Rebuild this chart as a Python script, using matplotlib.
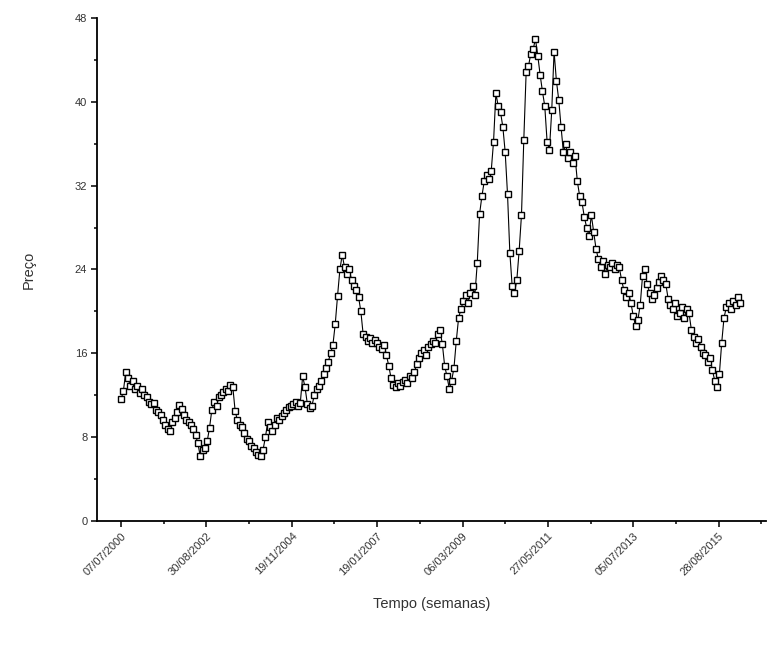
import numpy as np
import matplotlib.pyplot as plt
from matplotlib.ticker import MultipleLocator, FixedLocator

plt.rcParams['font.family'] = ['Liberation Sans', 'DejaVu Sans']

# weekly price, one reading every 3 weeks
step = 3
preco = [
    11.6, 12.4, 14.2, 13.6, 12.9, 13.4, 12.6, 12.9, 12.2, 12.6,
    12.0, 11.8, 11.4, 11.2, 11.3, 10.6, 10.4, 10.1, 9.6, 9.2,
    8.8, 8.6, 9.4, 9.8, 10.4, 11.1, 10.7, 10.1, 9.6, 9.4,
    9.2, 8.8, 8.2, 7.4, 6.2, 6.8, 7.0, 7.6, 8.9, 10.6,
    11.4, 11.0, 11.8, 12.0, 12.3, 12.6, 12.4, 13.0, 12.8, 10.5,
    9.6, 9.2, 9.0, 8.4, 7.8, 7.6, 7.2, 7.0, 6.6, 6.3,
    6.2, 6.8, 8.0, 9.4, 9.0, 8.6, 9.2, 9.8, 9.6, 10.0,
    10.3, 10.6, 10.9, 11.0, 11.2, 11.4, 11.0, 11.3, 13.8, 12.8,
    11.2, 10.8, 11.0, 12.0, 12.6, 12.9, 13.4, 14.0, 14.6, 15.2,
    16.0, 16.8, 18.8, 21.5, 24.0, 25.4, 24.2, 23.6, 24.0, 23.0,
    22.4, 22.0, 21.4, 20.0, 17.8, 17.6, 17.2, 17.5, 17.0, 17.3,
    17.0, 16.6, 16.4, 16.8, 15.8, 14.8, 13.6, 13.0, 12.8, 13.2,
    12.9, 13.3, 13.5, 13.2, 13.8, 13.6, 14.2, 15.0, 15.6, 16.0,
    16.3, 15.8, 16.6, 16.9, 17.2, 17.0, 17.8, 18.2, 16.9, 14.8,
    13.8, 12.6, 13.4, 14.6, 17.2, 19.4, 20.2, 21.0, 21.6, 20.8,
    21.8, 22.4, 21.6, 24.6, 29.3, 31.0, 32.4, 33.0, 32.6, 33.4,
    36.2, 40.8, 39.6, 39.0, 37.6, 35.2, 31.2, 25.6, 22.4, 21.8,
    23.0, 25.8, 29.2, 36.4, 42.8, 43.4, 44.6, 45.0, 46.0, 44.4,
    42.6, 41.0, 39.6, 36.2, 35.4, 39.2, 44.8, 42.0, 40.2, 37.6,
    35.2, 36.0, 34.6, 35.2, 34.2, 34.8, 32.4, 31.0, 30.4, 29.0,
    28.0, 27.2, 29.2, 27.6, 26.0, 25.0, 24.2, 24.8, 23.6, 24.4,
    24.2, 24.6, 24.0, 24.4, 24.2, 23.0, 22.0, 21.4, 21.8, 20.8,
    19.6, 18.6, 19.2, 20.6, 23.4, 24.0, 22.6, 21.8, 21.2, 21.6,
    22.2, 22.8, 23.4, 23.0, 22.6, 21.2, 20.6, 20.2, 20.8, 19.6,
    19.8, 20.4, 19.4, 20.2, 19.8, 18.2, 17.6, 17.0, 17.4, 16.6,
    16.0, 15.8, 15.2, 15.6, 14.4, 13.4, 12.8, 14.0, 17.0, 19.4,
    20.4, 20.8, 20.2, 21.0, 20.6, 21.4, 20.8,
]
semanas = np.arange(len(preco)) * step

datas = ['07/07/2000', '30/08/2002', '19/11/2004', '19/01/2007',
         '06/03/2009', '27/05/2011', '05/07/2013', '28/08/2015']
tick_semana = np.arange(len(datas)) * 110

fig = plt.figure(figsize=(7.68, 6.5), dpi=100)
ax = fig.add_axes([0.1263, 0.1985, 0.871, 0.7738])

ax.plot(semanas, preco, color='black', lw=0.8, marker='s', markersize=4.2,
        markerfacecolor='white', markeredgecolor='black', markeredgewidth=1.0)

ax.set_xlim(-31, 831)
ax.set_ylim(0, 48)

ax.spines['top'].set_visible(False)
ax.spines['right'].set_visible(False)
for s in ('left', 'bottom'):
    ax.spines[s].set_linewidth(1.3)

ax.yaxis.set_major_locator(MultipleLocator(8))
ax.yaxis.set_minor_locator(MultipleLocator(4))
ax.xaxis.set_major_locator(FixedLocator(tick_semana))
ax.xaxis.set_minor_locator(FixedLocator(np.arange(-1, 16) * 55))
ax.set_xticklabels(datas, rotation=45, ha='right', va='top',
                   rotation_mode='anchor')
ax.tick_params(which='major', direction='out', length=4, width=1.1,
               labelsize=8, colors='black', labelcolor='#333333', pad=3)
ax.tick_params(which='minor', direction='out', length=2.5, width=1.1)

ax.set_ylabel('Preço', fontsize=10.5, color='#333333', labelpad=28)
ax.set_xlabel('Tempo (semanas)', fontsize=10.5, color='#333333', labelpad=14)

fig.savefig('out.png', dpi=100)
